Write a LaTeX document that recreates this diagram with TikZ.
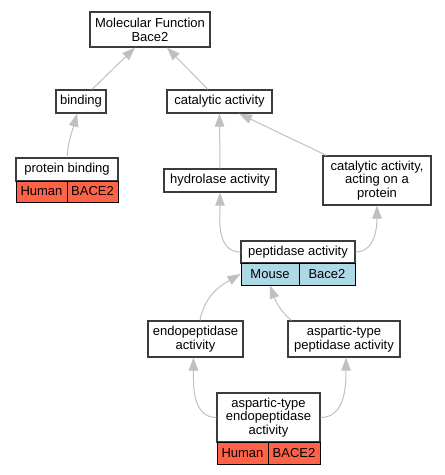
\documentclass[tikz,border=0pt]{standalone}
\usepackage{fontspec}
\setmainfont{Liberation Sans}
\usetikzlibrary{arrows.meta,calc}
\definecolor{tomatored}{HTML}{FF6347}
\definecolor{lblue}{HTML}{ADD8E6}
\definecolor{edgegray}{HTML}{C0C0C0}
\definecolor{boxborder}{HTML}{3C3C3C}
\tikzset{
  box/.style={draw=boxborder, line width=1.2pt, fill=white, inner sep=0pt, align=center,
    font=\fontsize{13pt}{13.7pt}\selectfont},
  cellred/.style={box, fill=tomatored, draw=black, line width=1pt},
  cellblue/.style={box, fill=lblue, draw=black, line width=1pt},
  edge/.style={draw=edgegray, line width=1pt, -{Triangle[length=13pt,width=9.5pt]}},
}
\newcommand{\bx}[7]{\node[#1, minimum width=#5pt, minimum height=#6pt] (#2) at (#3,#4) {#7};}
\begin{document}
\begin{tikzpicture}[x=1pt,y=-1pt]
\useasboundingbox (0,0) rectangle (445,475);
\bx{box}{mf}{150}{29.5}{120}{35}{Molecular Function\\Bace2}
\bx{box}{binding}{81}{101.5}{50}{23}{binding}
\bx{box}{cat}{219.5}{101.5}{105}{23}{catalytic activity}
\bx{box}{pb}{67}{169.5}{102}{23}{protein binding}
\bx{cellred}{pbh}{41.5}{191.5}{51}{21}{Human}
\bx{cellred}{pbg}{92.5}{191.5}{51}{21}{BACE2}
\bx{box}{hyd}{220}{180.5}{112}{23}{hydrolase activity}
\bx{box}{cap}{377}{180.5}{108}{49}{catalytic activity,\\acting on a\\protein}
\bx{box}{pep}{298}{252}{114}{22}{peptidase activity}
\bx{cellblue}{mouse}{270}{274}{58}{22}{Mouse}
\bx{cellblue}{pepg}{327}{274}{56}{22}{Bace2}
\bx{box}{endo}{195.5}{339}{95}{36}{endopeptidase\\activity}
\bx{box}{asppep}{344}{339}{112}{36}{aspartic-type\\peptidase activity}
\bx{box}{aspendo}{268.5}{417.5}{103}{49}{aspartic-type\\endopeptidase\\activity}
\bx{cellred}{aeh}{242.5}{453}{51}{22}{Human}
\bx{cellred}{aeg}{294}{453}{52}{22}{BACE2}

\draw[edge] ($(binding.north)+(11,0)$) -- ($(mf.south)+(-15,0)$);
\draw[edge] ($(cat.north)+(-11.5,0)$) -- ($(mf.south)+(17,0)$);
\draw[edge] (pb.north) to[out=85,in=-105] ($(binding.south)+(-4,0)$);
\draw[edge] (hyd.north) -- (cat.south);
\draw[edge] ($(cap.north west)+(4,0)$) -- ($(cat.south)+(19.5,0)$);
\draw[edge] (pep.west) to[out=180,in=-90] (hyd.south);
\draw[edge] (pep.east) to[out=0,in=-90] (cap.south);
\draw[edge] ($(endo.north)+(4.5,0)$) to[out=80,in=210] (mouse.west);
\draw[edge] ($(asppep.north west)+(4,0)$) to[out=140,in=-70] (mouse.south);
\draw[edge] (aspendo.west) to[out=180,in=-90] ($(endo.south)+(-2,0)$);
\draw[edge] (aspendo.east) to[out=0,in=-90] ($(asppep.south)+(2,0)$);
\end{tikzpicture}
\end{document}
